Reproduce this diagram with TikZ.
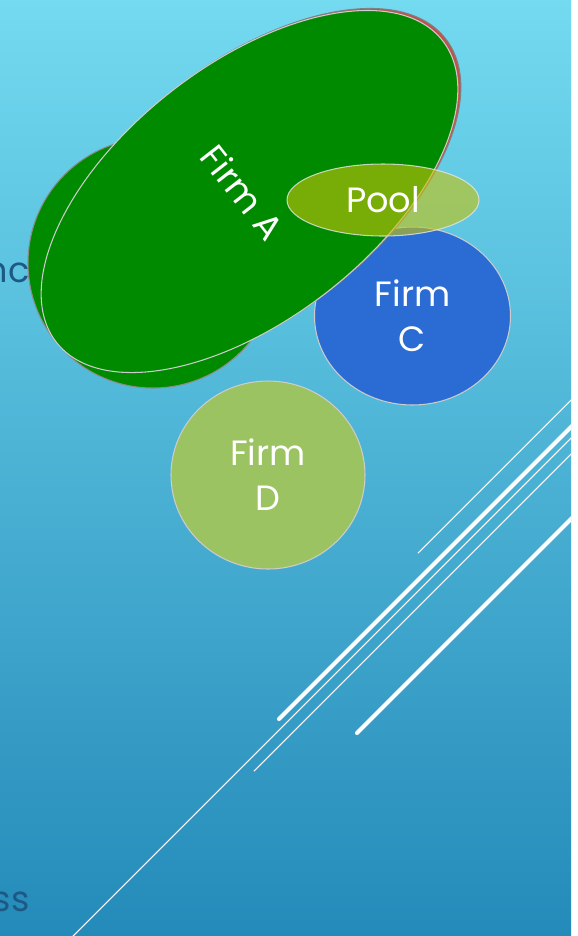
\documentclass[tikz,border=0pt]{standalone}
\usepackage{fontspec}
\setmainfont{Poppins}
\usepackage{xcolor}
\usepackage{tikz}
\usetikzlibrary{shapes.geometric,positioning}
\definecolor{slidetop}{RGB}{115,218,240}
\definecolor{slidebottom}{RGB}{36,138,185}
\definecolor{slidetext}{RGB}{30,88,132}
\definecolor{firmgreen}{RGB}{0,138,0}
\definecolor{firmred}{RGB}{192,80,77}
\definecolor{firmblue}{RGB}{42,108,212}
\definecolor{firmlime}{RGB}{155,195,98}
\definecolor{poolyellow}{RGB}{200,196,10}
\newcommand\firmfont{\fontsize{20}{25.5}\selectfont}

\begin{document}
\begin{tikzpicture}[font=\firmfont,
  firm/.style={ellipse, inner sep=0pt, text=white, align=center, line width=0.6pt},
  bodytext/.style={text=slidetext, anchor=base east, inner sep=0pt}]

\useasboundingbox (0,0) rectangle (11.56,-18.72);

% Slide background
\fill[white] (0,0) rectangle (11.56,-18.72);
\shade[top color=slidetop,bottom color=slidebottom] (0,0) rectangle (11.42,-18.72);

% Cut-off body text at the left edge
\node[bodytext] (bodyA) at (0.6,-5.64) {nc};
\node[bodytext] (bodyB) at (0.6,-18.22) {ess};

% Diagonal stripes
\begin{scope}
\clip (0,0) rectangle (11.42,-18.72);
\foreach \sx/\sy/\lw in {1.36/-18.82/0.6pt,5.08/-15.42/0.6pt,8.36/-11.06/0.6pt,5.58/-14.38/2.3pt,7.14/-14.66/2.3pt}
    \draw[white,line width=\lw,line cap=round] (\sx,\sy) -- ++(10.6,10.6);
\end{scope}

% === Firm C ===
\node[firm,fill=firmblue,draw=gray!40,minimum width=3.92cm,minimum height=3.56cm] (firmC) at (8.25,-6.32) {Firm\\C};

% === Firm A and the shapes behind it ===
\node[firm,fill=firmgreen,draw=black!45,minimum width=5cm,minimum height=5cm] (firmB) at (3.06,-5.26) {};
\node[firm,fill=firmred,draw=gray,rotate=38,minimum width=9.8cm,minimum height=5.08cm] (firmAshadow) at (5.05,-3.79) {};
\node[firm,fill=firmgreen,draw=white!60!gray,rotate=38,minimum width=9.8cm,minimum height=5.08cm] (firmA) at (4.99,-3.83) {};
\node[text=white,rotate=-52] (firmAlabel) at (4.86,-3.84) {Firm A};

% === Pool ===
\node[firm,fill=poolyellow,fill opacity=0.6,text opacity=1,draw=white!80!gray,draw opacity=0.8,minimum width=3.84cm,minimum height=1.44cm] (pool) at (7.66,-4.0) {Pool};

% === Firm D ===
\node[firm,fill=firmlime,draw=gray!40,minimum width=3.88cm,minimum height=3.76cm] (firmD) at (5.36,-9.5) {Firm\\D};

\end{tikzpicture}
\end{document}
